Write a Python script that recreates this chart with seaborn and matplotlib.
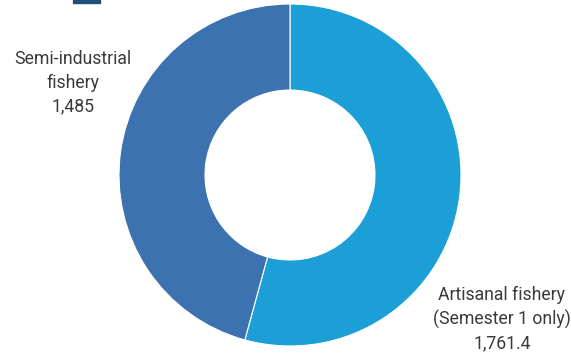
import matplotlib.pyplot as plt
import matplotlib.patches as mpatches
import seaborn as sns

# data
categories = ["Artisanal fishery\n(Semester 1 only)", "Semi-industrial\nfishery"]
values = [1761.4, 1485]
value_labels = ["1,761.4", "1,485"]
colors = ["#1b9fd6", "#3d72b1"]

sns.set_theme(style="white")
plt.rcParams['font.family'] = ['Roboto', 'DejaVu Sans']

fig = plt.figure(figsize=(5.71, 3.56), dpi=100)
ax = fig.add_axes([0, 0, 1, 1])

wedges, _ = ax.pie(values, colors=colors, startangle=90, counterclock=False,
                   center=(290, 181), radius=171,
                   wedgeprops=dict(width=86, edgecolor='white', linewidth=0.8))

# pie() resets the limits, so set them afterwards
ax.set_xlim(0, 571)
ax.set_ylim(0, 356)
ax.set_aspect('equal')
ax.axis('off')

# label placement
label_pos = [(502, 37), (73, 273)]
for (x, y), cat, val in zip(label_pos, categories, value_labels):
    ax.text(x, y, f"{cat}\n{val}", ha='center', va='center', fontsize=12.7,
            color='#3a3a3a', linespacing=1.4)

# small legend mark remnant at top-left
fig.patches.append(mpatches.Rectangle((73 / 571, 1 - 3 / 356), 27 / 571, 3 / 356,
                                      transform=fig.transFigure, color='#1f4e79'))

fig.savefig("out.png", dpi=100)
